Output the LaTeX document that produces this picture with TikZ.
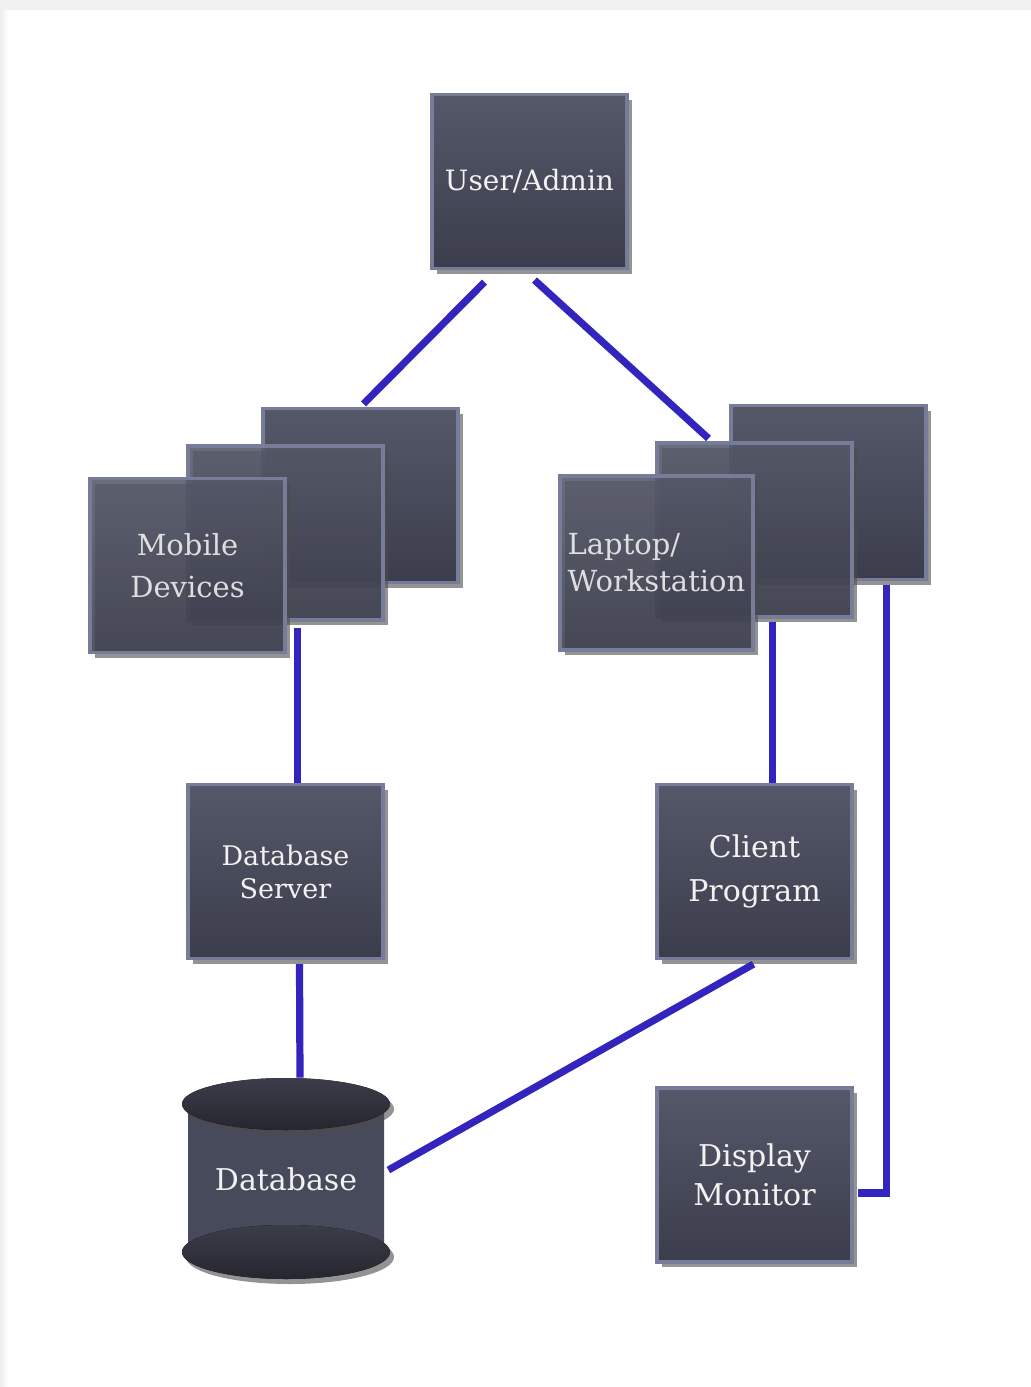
\documentclass[tikz,border=0pt]{standalone}
\usepackage{fontspec}
\setmainfont{DejaVu Serif}
\usepackage{tikz}
\usetikzlibrary{shapes.geometric,shadows,calc,backgrounds}
\definecolor{boxtop}{HTML}{555869}
\definecolor{boxbot}{HTML}{3B3D4C}
\definecolor{boxedge}{HTML}{777C99}
\definecolor{dbdark}{HTML}{25262E}
\definecolor{dbmid}{HTML}{3C3D4A}
\definecolor{dbbody}{HTML}{474A5B}
\definecolor{linkblue}{HTML}{3424BE}
\definecolor{labelwhite}{HTML}{F2F2F2}
\pgfdeclarehorizontalshading{dbside}{100bp}{color(0bp)=(boxedge); color(12bp)=(dbbody);
  color(88bp)=(dbbody); color(100bp)=(boxedge)}

\tikzset{
  slab/.style={rectangle,inner sep=0pt,minimum width=97.5pt,minimum height=87pt,
    top color=boxtop,bottom color=boxbot,draw=boxedge,line width=1.6pt,
    text=labelwhite,align=center,
    drop shadow={shadow xshift=2.5pt,shadow yshift=-2.5pt,opacity=0.6,fill=black!70}},
  ghost/.style={slab,fill opacity=0.88},
  link/.style={draw=linkblue,line width=3.6pt,line join=miter},
}

\begin{document}
\begin{tikzpicture}[x=0.5pt,y=-0.5pt]
    \useasboundingbox (0,0) rectangle (1031,1387);
    \fill[white] (0,0) rectangle (1031,1387);
    \fill[gray!12] (0,0) rectangle (1031,10);
    \shade[left color=gray!14,right color=white] (0,10) rectangle (8,1387);

    \node[slab,font=\fontsize{14}{17}\selectfont] (user) at (529.5,181.5) {User/Admin};

    \node[slab] (mob3) at (360.5,495.5) {};
    \node[ghost] (mob2) at (285.5,533) {};
    \node[ghost,font=\fontsize{14.5}{21}\selectfont] (mob1) at (187.5,565.5) {Mobile\\Devices};

    \node[slab] (lap3) at (828.5,492.5) {};
    \node[ghost] (lap2) at (754.5,530) {};
    \node[ghost,minimum width=96.5pt,align=left,font=\fontsize{14.5}{18.5}\selectfont] (lap1) at (656.5,563) {Laptop/\\Workstation};

    \node[slab,font=\fontsize{13.5}{16.5}\selectfont] (server) at (285.5,871.5) {Database\\Server};
    \node[slab,font=\fontsize{15}{22}\selectfont] (client) at (754.5,871.5) {Client\\Program};
    \node[slab,font=\fontsize{15}{19.5}\selectfont] (display) at (754.5,1175) {Display\\Monitor};

    \shade[shading=dbside] (188,1104) rectangle (384,1252);
    \fill[top color=dbmid,bottom color=dbdark,drop shadow={shadow xshift=2pt,shadow yshift=-2.5pt,opacity=0.6,fill=black!70}]
      (286,1252) ellipse [x radius=52pt,y radius=13.5pt];
    \fill[top color=dbmid,bottom color=dbdark,drop shadow={shadow xshift=2pt,shadow yshift=-2.5pt,opacity=0.6,fill=black!70}]
      (286,1104) ellipse [x radius=52pt,y radius=13pt];
    \node[rectangle,inner sep=0pt,minimum width=104pt,minimum height=101pt,text=labelwhite,font=\fontsize{15}{18}\selectfont] (db) at (286,1179)
      {Database};

    \draw[link] ($(user.south)+(-45,12)$) -- ($(mob3.north)+(3,-3)$);
    \draw[link] ($(user.south)+(5,10)$) -- ($(lap2.north)+(-46,-3)$);
    \draw[link] ($(mob2.south)+(12,6)$) -- ($(server.north)+(12,0)$);
    \draw[link] ($(server.south)+(14,4)$) -- ($(db.north)+(14,0)$);
    \draw[link] ($(lap2.south)+(18,3)$) -- ($(client.north)+(18,0)$);
    \draw[link] ($(client.south)+(-1,4)$) -- ($(db.east)+(-2,-9)$);
    \draw[link] ($(lap3.south)+(58,4)$) |- ($(display.east)+(4,18)$);
  \end{tikzpicture}
\end{document}
